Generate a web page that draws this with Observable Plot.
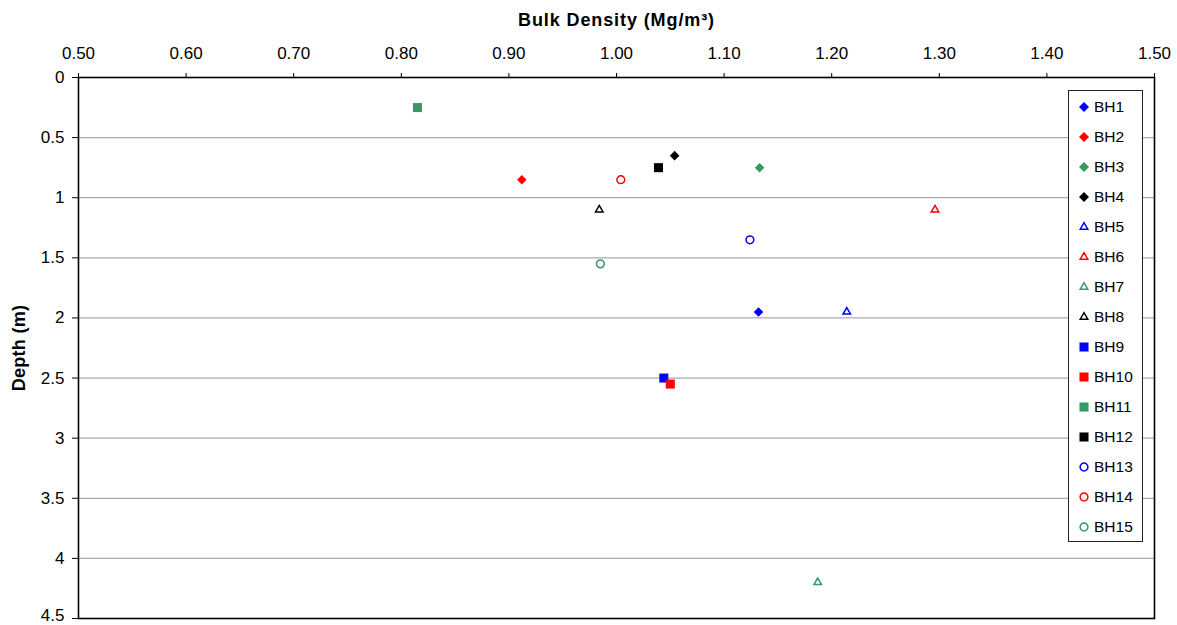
<!DOCTYPE html>
<html><head><meta charset="utf-8">
<script src="https://cdn.jsdelivr.net/npm/d3@7"></script>
<script src="https://cdn.jsdelivr.net/npm/@observablehq/plot@0.6"></script>
<style>
body{margin:0;background:#fff;font-family:"Liberation Sans",Arial,sans-serif;}
#wrap{position:relative;width:1177px;height:625px;}
#legend{position:absolute;left:1068px;top:90px;width:75px;height:452px;border:1px solid #222;background:#fff;box-sizing:border-box;}
.row{position:absolute;left:8px;height:20px;display:flex;align-items:center;font-size:15.5px;color:#000;}
.row svg{margin-right:3px;}
svg.main text{fill:#000;}
svg.main g[aria-label="x-axis label"] text{font-weight:bold;font-size:18px;letter-spacing:0.9px;}
svg.main g[aria-label="y-axis label"] text{font-weight:bold;font-size:18px;letter-spacing:0.3px;}
</style></head><body><div id="wrap"></div>
<script>
const series = ["BH1","BH2","BH3","BH4","BH5","BH6","BH7","BH8","BH9","BH10","BH11","BH12","BH13","BH14","BH15"];
const density = [1.132, 0.912, 1.133, 1.054, 1.214, 1.296, 1.187, 0.984, 1.044, 1.050, 0.815, 1.039, 1.124, 1.004, 0.985];
const depth = [1.95, 0.85, 0.75, 0.65, 1.95, 1.10, 4.20, 1.10, 2.50, 2.55, 0.25, 0.75, 1.35, 0.85, 1.55];
const seriesColor = ["#0000FF","#FF0000","#339966","#000000","#0000FF","#FF0000","#339966","#000000","#0000FF","#FF0000","#339966","#000000","#0000FF","#FF0000","#339966"];
const seriesShape = ["diamond","diamond","diamond","diamond","triangle","triangle","triangle","triangle","square","square","square","square","circle","circle","circle"];
const xTicks = [0.5,0.6,0.7,0.8,0.9,1.0,1.1,1.2,1.3,1.4,1.5];
const yTicks = [0,0.5,1,1.5,2,2.5,3,3.5,4,4.5];
const xTitle = "Bulk Density (Mg/m³)";
const yTitle = "Depth (m)";

const data = series.map((s,i)=>({name:s, x:density[i], y:depth[i], color:seriesColor[i], shape:seriesShape[i]}));

const shapeStyle = {
  diamond: {symbol:"diamond2", r:4.3, lr:4.5, filled:true, d3sym:d3.symbolDiamond2},
  triangle:{symbol:"triangle2", r:3.6, lr:3.6, filled:false, d3sym:d3.symbolTriangle2},
  square:  {symbol:"square", r:5.1, lr:5.1, filled:true, d3sym:d3.symbolSquare},
  circle:  {symbol:"circle", r:3.9, lr:3.9, filled:false, d3sym:d3.symbolCircle}
};

const dotMarks = Object.entries(shapeStyle).map(([k,st]) =>
  Plot.dot(data.filter(d=>d.shape===k), st.filled
    ? {x:"x", y:"y", symbol:()=>st.symbol, r:st.r, fill:"color", stroke:"none"}
    : {x:"x", y:"y", symbol:()=>st.symbol, r:st.r, fill:"none", stroke:"color", strokeWidth:1.5})
);

const chart = Plot.plot({
  width:1177, height:625,
  marginTop:77, marginLeft:78, marginRight:23, marginBottom:7,
  className:"main",
  style:{fontFamily:"'Liberation Sans', Arial, sans-serif", fontSize:"17px", background:"#fff", overflow:"visible"},
  x:{domain:[0.5,1.5]},
  y:{domain:[0,4.5], reverse:true},
  color:{type:"identity"},
  symbol:{type:"identity"},
  marks:[
    Plot.ruleY(yTicks.filter(v=>v>0 && v<4.5), {stroke:"#ababab", strokeWidth:1.3}),
    ...dotMarks,
    Plot.frame({stroke:"#000", strokeWidth:1.6}),
    Plot.axisX({anchor:"top", ticks:xTicks, tickFormat:d3.format(".2f"), tickSize:5, tickPadding:14, label:xTitle, labelAnchor:"center", labelOffset:64, labelArrow:"none"}),
    Plot.axisY({anchor:"left", ticks:yTicks, tickFormat:d=>String(d), tickSize:6, tickPadding:8, label:yTitle, labelAnchor:"center", labelOffset:66, labelArrow:"none"})
  ]
});
const wrap = document.getElementById("wrap");
wrap.appendChild(chart);

// keep the bottom tick label inside the picture
d3.select(chart).selectAll('g[aria-label="y-axis tick label"] text')
  .filter(function(){ return this.textContent === "4.5"; })
  .attr("dy", function(){ return (parseFloat(d3.select(this).attr("dy")) || 0) - 2.5 + "px"; });

// legend
const leg = document.createElement("div");
leg.id = "legend";
data.forEach((d,i)=>{
  const st = shapeStyle[d.shape];
  const row = document.createElement("div");
  row.className = "row";
  row.style.top = (6 + i*30) + "px";
  const svg = d3.create("svg").attr("width",14).attr("height",14);
  svg.append("path")
    .attr("transform","translate(7,7)")
    .attr("d", d3.symbol(st.d3sym, st.lr*st.lr*Math.PI)())
    .attr("fill", st.filled ? d.color : "none")
    .attr("stroke", st.filled ? "none" : d.color)
    .attr("stroke-width", 1.5);
  row.appendChild(svg.node());
  const t = document.createElement("span");
  t.textContent = d.name;
  row.appendChild(t);
  leg.appendChild(row);
});
wrap.appendChild(leg);
</script></body></html>
